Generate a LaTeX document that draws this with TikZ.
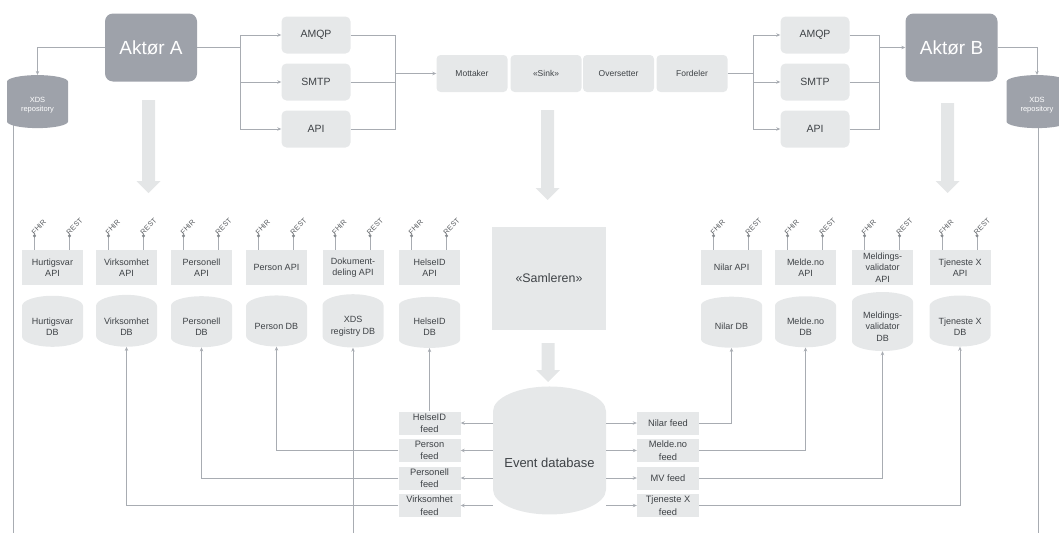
\documentclass[tikz,border=0pt]{standalone}
\usepackage{fontspec}
\setmainfont{Liberation Sans}
\usetikzlibrary{shapes.geometric,arrows.meta,backgrounds}

\definecolor{aktorgraa}{HTML}{9EA2AA}
\definecolor{boksgraa}{HTML}{E6E8E9}
\definecolor{linjegraa}{HTML}{A8ACB2}
\definecolor{tekstgraa}{HTML}{3E4246}
\definecolor{pilgraa}{HTML}{E4E6E7}

\tikzset{
  aktor/.style={rectangle, rounded corners=8pt, fill=aktorgraa, text=white,
    font=\fontsize{19}{21}\selectfont, minimum width=92pt, minimum height=68pt},
  repo/.style={cylinder, shape border rotate=90, aspect=0.4, fill=aktorgraa, text=white,
    font=\fontsize{7.5}{9}\selectfont, minimum width=61pt, minimum height=53pt,
    align=center, inner sep=0pt},
  proto/.style={rectangle, rounded corners=5pt, fill=boksgraa, text=tekstgraa,
    font=\fontsize{10.5}{12}\selectfont, minimum width=69pt, minimum height=37pt},
  ledd/.style={rectangle, rounded corners=4pt, fill=boksgraa, text=tekstgraa,
    font=\fontsize{8.5}{10}\selectfont, minimum width=71pt, minimum height=37pt},
  api/.style={rectangle, fill=boksgraa, text=tekstgraa, font=\fontsize{9}{11.5}\selectfont,
    minimum width=61pt, minimum height=35pt, align=center, inner sep=0pt},
  db/.style={cylinder, shape border rotate=90, aspect=0.5, fill=boksgraa, text=tekstgraa,
    font=\fontsize{9}{11.5}\selectfont, minimum width=61pt, minimum height=51pt,
    align=center, inner sep=0pt},
  feed/.style={rectangle, fill=boksgraa, text=tekstgraa, font=\fontsize{9.3}{12.5}\selectfont,
    minimum width=62pt, minimum height=23pt, align=center, inner sep=0pt},
  samler/.style={rectangle, fill=boksgraa, text=tekstgraa, font=\fontsize{12.4}{14}\selectfont,
    minimum width=114pt, minimum height=103pt},
  strek/.style={draw=linjegraa, line width=0.8pt},
  kobling/.style={strek, -{Stealth[length=4pt,width=3.5pt]}},
  port/.style={draw=linjegraa, line width=0.8pt},
  portnavn/.style={rotate=45, anchor=south west, inner sep=0.3pt, text=tekstgraa!85,
    font=\fontsize{7.3}{8}\selectfont}
}

% tykk pil: x, start y, spiss y
\newcommand{\tykkpil}[3]{%
  \fill[pilgraa] (#1-6.5,#2) -- (#1+6.5,#2) -- (#1+6.5,#3-12) -- (#1+12,#3-12)
    -- (#1,#3) -- (#1-12,#3-12) -- (#1-6.5,#3-12) -- cycle;}

\begin{document}
\begin{tikzpicture}[x=1pt, y=-1pt]
\useasboundingbox (0,0) rectangle (1059,533);

% aktorer
\node[aktor] (aktorA) at (151,47.5) {Aktør A};
\node[aktor] (aktorB) at (951.5,47.5) {Aktør B};
\node[repo] (repoA) at (37.5,105) {XDS\\repository};
\node[repo] (repoB) at (1037,105) {XDS\\repository};

% protokoller
\foreach \p/\y in {AMQP/35, SMTP/82, API/129} {
  \node[proto] (venstre\p) at (316,\y) {\p};
  \node[proto] (hoyre\p) at (815,\y) {\p};
}

% sink-kjeden
\node[ledd] (mottaker) at (472,73.5) {Mottaker};
\node[ledd] (sink) at (546,73.5) {«Sink»};
\node[ledd] (oversetter) at (618.5,73.5) {Oversetter};
\node[ledd] (fordeler) at (692,73.5) {Fordeler};

\coordinate (gaffelA) at (240,47.5);
\coordinate (samleA) at (395,73.5);
\coordinate (gaffelB) at (753,73.5);
\coordinate (samleB) at (879,47.5);

\draw[strek] (aktorA.east) -- (gaffelA);
\foreach \p in {AMQP, SMTP, API} {
  \draw[kobling] (gaffelA) |- (venstre\p.west);
  \draw[strek] (venstre\p.east) -| (samleA);
  \draw[kobling] (gaffelB) |- (hoyre\p.west);
  \draw[strek] (hoyre\p.east) -| (samleB);
}
\draw[kobling] (samleA) -- (mottaker.west);
\draw[strek] (fordeler.east) -- (gaffelB);
\draw[kobling] (samleB) -- (aktorB.west);

\draw[kobling] (aktorA.west) -| (repoA.north);
\draw[kobling] (aktorB.east) -| (repoB.north);

\coordinate (bunnA) at (13,533);
\coordinate (bunnB) at (1038,533);
\begin{scope}[on background layer]
  \draw[strek] (repoA.center -| bunnA) -- (bunnA);
  \draw[strek] (repoB.center -| bunnB) -- (bunnB);
\end{scope}

% store piler
\tykkpil{148.5}{100}{193}
\tykkpil{547.5}{110}{200}
\tykkpil{947.5}{103}{193}

% samleren og event-basen
\node[samler] (samleren) at (549,278.5) {«Samleren»};
\tykkpil{548}{343}{382}
\node[db, minimum width=113pt, minimum height=128pt, aspect=0.55,
  font=\fontsize{13}{15}\selectfont] (eventdb) at (549.5,463) {Event database};

% API-er og databaser
\foreach \id/\x/\apitekst/\dbtekst in {
  hurtigsvar/52.5/{Hurtigsvar\\API}/{Hurtigsvar\\DB},
  virksomhet/126.5/{Virksomhet\\API}/{Virksomhet\\DB},
  personell/201.5/{Personell\\API}/{Personell\\DB},
  person/276.5/{Person API}/{Person DB},
  xds/353/{Dokument-\\deling API}/{XDS\\registry DB},
  helseid/429.5/{HelseID\\API}/{HelseID\\DB},
  nilar/731.5/{Nilar API}/{Nilar DB},
  melde/805.5/{Melde.no\\API}/{Melde.no\\DB},
  mv/882.5/{Meldings-\\validator\\API}/{Meldings-\\validator\\DB},
  tjeneste/960/{Tjeneste X\\API}/{Tjeneste X\\DB}} {
  \node[api] (\id-api) at (\x,267.5) {\apitekst};
  \node[db] (\id-db) at (\x,326.5) {\dbtekst};
  \draw[port] ([xshift=-18pt]\id-api.north) -- ++(0,-14) coordinate (\id-fhir);
  \draw[port] ([xshift=17pt]\id-api.north) -- ++(0,-14) coordinate (\id-rest);
  \fill[linjegraa!80!black] (\id-fhir) circle (1.7) (\id-rest) circle (1.7);
  \node[portnavn] (\id-fhirnavn) at (\id-fhir) {FHIR};
  \node[portnavn] (\id-restnavn) at (\id-rest) {REST};
}

% feeds
\foreach \id/\y/\tekst in {helseid/423/{HelseID\\feed}, person/450.5/{Person\\feed},
  personell/478/{Personell\\feed}, virksomhet/505.5/{Virksomhet\\feed}} {
  \node[feed] (\id-feed) at (429.5,\y) {\tekst};
  \draw[kobling] (eventdb.west |- \id-feed) -- (\id-feed.east);
}
\foreach \id/\y/\tekst in {nilar/423/{Nilar feed}, melde/450.5/{Melde.no\\feed},
  mv/478/{MV feed}, tjeneste/505.5/{Tjeneste X\\feed}} {
  \node[feed] (\id-feed) at (668,\y) {\tekst};
  \draw[kobling] (eventdb.east |- \id-feed) -- (\id-feed.west);
  \draw[kobling] (\id-feed.east) -| (\id-db.south);
}
\draw[kobling] (helseid-feed.north) -- (helseid-db.south);
\foreach \id in {person, personell, virksomhet}
  \draw[kobling] (\id-feed.west) -| (\id-db.south);

\coordinate (xdsbunn) at (353,533);
\draw[kobling] (xdsbunn) -- (xds-db.south);
\end{tikzpicture}
\end{document}
